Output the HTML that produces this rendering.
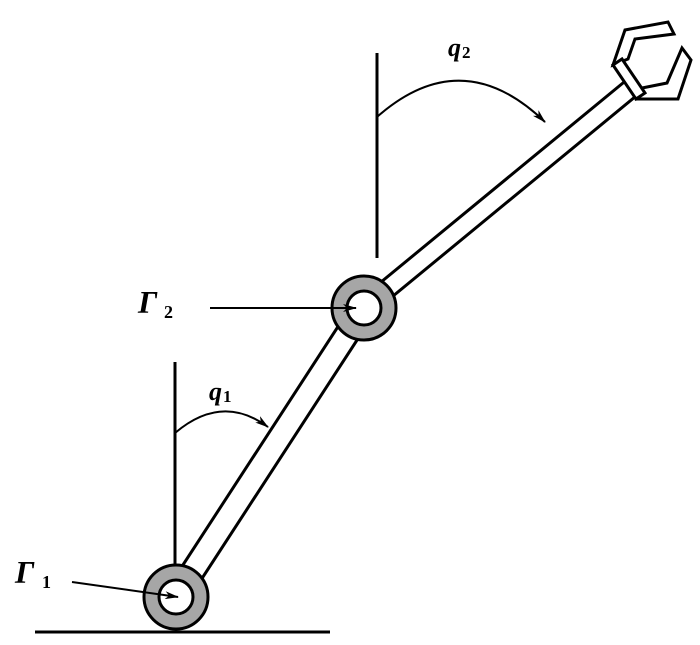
<!DOCTYPE html>
<html><head><style>html,body{margin:0;padding:0;background:#fff;width:700px;height:645px;overflow:hidden}</style></head>
<body>
<svg width="700" height="645" viewBox="0 0 700 645" xmlns="http://www.w3.org/2000/svg">
<defs>
<marker id="ah" markerWidth="14" markerHeight="8" refX="13" refY="4" orient="auto" markerUnits="userSpaceOnUse">
<path d="M0,0 L14,4 L0,8 L4,4 Z" fill="#000"/>
</marker>
</defs>
<g stroke="#000" stroke-width="3" fill="none">
<line x1="35" y1="632" x2="330" y2="632"/>
<line x1="175" y1="362" x2="175" y2="566"/>
<line x1="377" y1="53" x2="377" y2="258"/>
<line x1="166" y1="591" x2="354" y2="302"/>
<line x1="186" y1="603" x2="374" y2="314"/>
<line x1="358" y1="301" x2="629" y2="78"/>
<line x1="370" y1="315" x2="641" y2="92"/>
</g>
<circle cx="176" cy="597" r="32" fill="#a6a6a6" stroke="#000" stroke-width="3"/>
<circle cx="176" cy="597" r="17" fill="#fff" stroke="#000" stroke-width="3"/>
<circle cx="364" cy="308" r="32" fill="#a6a6a6" stroke="#000" stroke-width="3"/>
<circle cx="364" cy="308" r="17" fill="#fff" stroke="#000" stroke-width="3"/>
<g stroke="#000" stroke-width="3" fill="#fff" stroke-linejoin="miter">
<polygon points="613,65 625,30 668,22 674,34 635,39 628,59"/>
<polygon points="642,88 667,83 682,48 691,60 678,99 637,99"/>
<polygon points="613,65 622,59 645,93 636,99"/>
</g>
<g stroke="#000" stroke-width="2" fill="none">
<path d="M377,117 Q462,42 545,122" marker-end="url(#ah)"/>
<path d="M175,433 Q222,393 268,427" marker-end="url(#ah)"/>
<line x1="210" y1="308" x2="356" y2="308" marker-end="url(#ah)"/>
<line x1="72" y1="582" x2="178" y2="597" marker-end="url(#ah)"/>
</g>
<g font-family="Liberation Serif, serif" font-weight="bold" font-style="italic" fill="#000">
<text x="448" y="56" font-size="26">q</text>
<text x="462" y="58" font-size="17" font-style="normal">2</text>
<text x="209" y="400" font-size="26">q</text>
<text x="223" y="402" font-size="17" font-style="normal">1</text>
<text x="138" y="313" font-size="32">Γ</text>
<text x="164" y="318" font-size="18" font-style="normal">2</text>
<text x="15" y="583" font-size="32">Γ</text>
<text x="42" y="588" font-size="18" font-style="normal">1</text>
</g>
</svg>
</body></html>
